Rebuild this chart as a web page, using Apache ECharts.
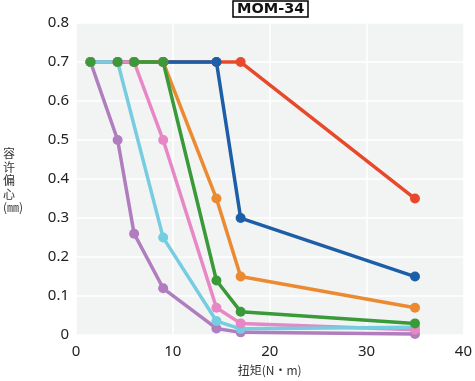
<!DOCTYPE html>
<html>
<head>
<meta charset="utf-8">
<script src="https://cdn.jsdelivr.net/npm/echarts@6/dist/echarts.min.js"></script>
<style>html,body{margin:0;padding:0;background:#fff}#c{width:475px;height:381px}</style>
</head>
<body>
<div id="c"></div>
<script>
var purpleX = [1.5, 4.3, 6, 9, 14.5, 17, 35];
var purpleY = [0.7, 0.5, 0.26, 0.12, 0.017, 0.007, 0.003];
var cyanX   = [1.5, 4.3, 9, 14.5, 17, 35];
var cyanY   = [0.7, 0.7, 0.25, 0.036, 0.016, 0.02];
var pinkX   = [1.5, 4.3, 6, 9, 14.5, 17, 35];
var pinkY   = [0.7, 0.7, 0.7, 0.5, 0.07, 0.03, 0.014];
var greenX  = [1.5, 4.3, 6, 9, 14.5, 17, 35];
var greenY  = [0.7, 0.7, 0.7, 0.7, 0.14, 0.06, 0.03];
var orangeX = [1.5, 4.3, 6, 9, 14.5, 17, 35];
var orangeY = [0.7, 0.7, 0.7, 0.7, 0.35, 0.15, 0.07];
var blueX   = [1.5, 4.3, 6, 9, 14.5, 17, 35];
var blueY   = [0.7, 0.7, 0.7, 0.7, 0.7, 0.3, 0.15];
var redX    = [1.5, 4.3, 6, 9, 14.5, 17, 35];
var redY    = [0.7, 0.7, 0.7, 0.7, 0.7, 0.7, 0.35];
var xTicks = [0, 10, 20, 30, 40];
var yTicks = [0, 0.1, 0.2, 0.3, 0.4, 0.5, 0.6, 0.7, 0.8];

var colors = {purple:'#b07dbf', cyan:'#76cce0', pink:'#e887c5', green:'#3a9a3a', orange:'#eb8a30', blue:'#1d5ea8', red:'#e8492a'};
var data = {
  purple:[purpleX, purpleY], cyan:[cyanX, cyanY], pink:[pinkX, pinkY], green:[greenX, greenY],
  orange:[orangeX, orangeY], blue:[blueX, blueY], red:[redX, redY]
};
function pts(k){ var xs = data[k][0], ys = data[k][1]; return xs.map(function(x,i){ return [x, ys[i]]; }); }

var lineOrder = ['red','blue','orange','green','pink','cyan','purple'];
var markOrder = ['red','blue','orange','purple','cyan','pink','green'];
var series = [];
lineOrder.forEach(function(k){
  series.push({type:'line', z:2, data:pts(k), showSymbol:false, symbol:'none',
    lineStyle:{color:colors[k], width:3.5}, itemStyle:{color:colors[k]}, animation:false, silent:true});
});
markOrder.forEach(function(k){
  series.push({type:'scatter', z:3, data:pts(k), symbolSize:10,
    itemStyle:{color:colors[k], opacity:1}, animation:false, silent:true});
});

var chart = echarts.init(document.getElementById('c'));
chart.setOption({
  animation:false,
  title:{text:'MOM-34', left:233, top:1, padding:[1,4,0,4], borderColor:'#000', borderWidth:1.5,
    textStyle:{fontFamily:'DejaVu Sans', fontWeight:'bold', fontSize:14.5, color:'#111', lineHeight:15}},
  grid:{left:76, right:8, top:23, bottom:43, show:true, backgroundColor:'#f2f4f4', borderWidth:0},
  xAxis:{type:'value', min:xTicks[0], max:xTicks[xTicks.length-1], interval:10,
    name:'扭矩(N·m)', nameLocation:'middle', nameGap:26,
    nameTextStyle:{fontFamily:'Noto Sans CJK SC', fontSize:12, color:'#333'},
    axisLine:{show:false}, axisTick:{show:false},
    axisLabel:{fontFamily:'Noto Sans', fontSize:15, color:'#222', margin:9},
    splitLine:{lineStyle:{color:'#ffffff', width:1.5}}},
  yAxis:{type:'value', min:yTicks[0], max:yTicks[yTicks.length-1], interval:0.1,
    axisLine:{show:false}, axisTick:{show:false},
    axisLabel:{fontFamily:'Noto Sans', fontSize:15, color:'#222', margin:7},
    splitLine:{lineStyle:{color:'#ffffff', width:1.5}}},
  graphic:[{type:'text', left:3, top:147, silent:true,
    style:{text:'容\n许\n偏\n心\n(㎜)', fontFamily:'Noto Sans CJK SC', fontSize:12, lineHeight:13.5,
      fill:'#333', align:'center', width:22}}],
  series:series
});
</script>
</body>
</html>
